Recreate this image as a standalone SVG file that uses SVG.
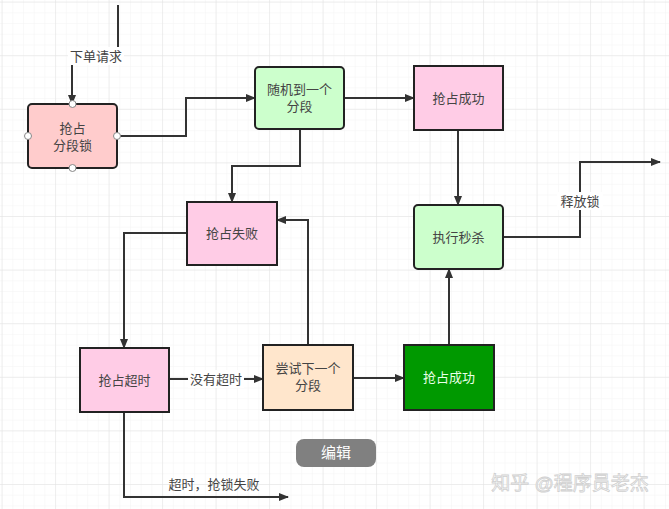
<svg xmlns="http://www.w3.org/2000/svg" width="669" height="509" viewBox="0 0 669 509">
<defs>
<pattern id="minor" x="1.6" y="1.6" width="10.7" height="10.72" patternUnits="userSpaceOnUse">
<path d="M0 0 H10.7 M0 0 V10.72" fill="none" stroke="#f3f3f3" stroke-width="1"/>
</pattern>
<pattern id="major" x="1.6" y="1.6" width="53.5" height="53.6" patternUnits="userSpaceOnUse">
<path d="M0 0 H53.5 M0 0 V53.6" fill="none" stroke="#e2e2e2" stroke-width="1"/>
</pattern>
<marker id="arr" viewBox="0 0 10 10" refX="9" refY="5" markerWidth="10" markerHeight="10" markerUnits="userSpaceOnUse" orient="auto">
<path d="M0 1 L10 5 L0 9 Z" fill="#333"/>
</marker>
</defs>
<style>
.edge{fill:none;stroke:#333;stroke-width:2;marker-end:url(#arr)}
.box{stroke:#222;stroke-width:2}
.t{font-family:"Liberation Sans","Noto Sans CJK SC",sans-serif;font-size:13px;fill:#444;text-anchor:middle}
.lbl{font-family:"Liberation Sans","Noto Sans CJK SC",sans-serif;font-size:13px;fill:#444;text-anchor:middle}
.port{fill:#fff;stroke:#888;stroke-width:1}
</style>
<rect width="669" height="509" fill="#fff"/>
<rect width="669" height="509" fill="url(#minor)"/>
<rect width="669" height="509" fill="url(#major)"/>

<g id="connectors">
<path class="edge" d="M118 5 V56 H72 V104"/>
<rect x="68" y="47" width="56" height="18" fill="#fff"/>
<text class="lbl" x="96" y="61">下单请求</text>
<path class="edge" d="M117 136 H186 V98 H255"/>
<path class="edge" d="M344 98 H414"/>
<path class="edge" d="M300 129 V166 H232 V202"/>
<path class="edge" d="M458 130 V205"/>
<path class="edge" d="M503 237 H580 V162 H660"/>
<rect x="557" y="192" width="46" height="18" fill="#fff"/>
<text class="lbl" x="580" y="206">释放锁</text>
<path class="edge" d="M187 233 H124 V348"/>
<path class="edge" d="M308 345 V220 H277"/>
<path class="edge" d="M169 379 H263"/>
<rect x="188" y="370" width="56" height="18" fill="#fff"/>
<text class="lbl" x="216" y="384">没有超时</text>
<path class="edge" d="M353 378 H404"/>
<path class="edge" d="M449 345 V269"/>
<path class="edge" d="M124 412 V497 H288"/>
<text class="lbl" x="214" y="489">超时，抢锁失败</text>
</g>

<g id="node-lock">
<rect class="box" x="28" y="104" width="89" height="64" rx="4" fill="#ffcccc"/>
<text class="t" x="72.5" y="133">抢占</text>
<text class="t" x="72.5" y="150">分段锁</text>
<circle class="port" cx="72.5" cy="104" r="3.5"/>
<circle class="port" cx="72.5" cy="168" r="3.5"/>
<circle class="port" cx="28" cy="136" r="3.5"/>
<circle class="port" cx="117" cy="136" r="3.5"/>
</g>

<g id="node-random">
<rect class="box" x="255" y="67" width="89" height="62" rx="4" fill="#ccffcc"/>
<text class="t" x="299.5" y="94">随机到一个</text>
<text class="t" x="299.5" y="111">分段</text>
</g>

<g id="node-success-top">
<rect class="box" x="414" y="66" width="89" height="64" fill="#ffcce6"/>
<text class="t" x="458.5" y="103">抢占成功</text>
</g>

<g id="node-exec">
<rect class="box" x="414" y="205" width="89" height="64" rx="4" fill="#ccffcc"/>
<text class="t" x="458.5" y="242">执行秒杀</text>
</g>

<g id="node-fail">
<rect class="box" x="187" y="202" width="90" height="63" fill="#ffcce6"/>
<text class="t" x="232" y="238">抢占失败</text>
</g>

<g id="node-timeout">
<rect class="box" x="80" y="348" width="89" height="64" fill="#ffcce6"/>
<text class="t" x="124.5" y="385">抢占超时</text>
</g>

<g id="node-next">
<rect class="box" x="263" y="345" width="90" height="65" fill="#ffe6cc"/>
<text class="t" x="308" y="373">尝试下一个</text>
<text class="t" x="308" y="390">分段</text>
</g>

<g id="node-success-bottom">
<rect class="box" x="404" y="345" width="90" height="65" fill="#009900"/>
<text class="t" x="449" y="382" style="fill:#e8ffe8">抢占成功</text>
</g>

<g id="edit-button">
<rect x="296" y="439" width="80" height="28" rx="8" fill="#808080"/>
<text class="t" x="336" y="458" style="fill:#fff;font-size:15px">编辑</text>
</g>

<g id="watermark">
<text x="570" y="490" style="font-family:'Liberation Sans','Noto Sans CJK SC',sans-serif;font-size:19px;fill:#fff;stroke:#cfcfcf;stroke-width:0.8;text-anchor:middle">知乎 @程序员老杰</text>
</g>
</svg>
